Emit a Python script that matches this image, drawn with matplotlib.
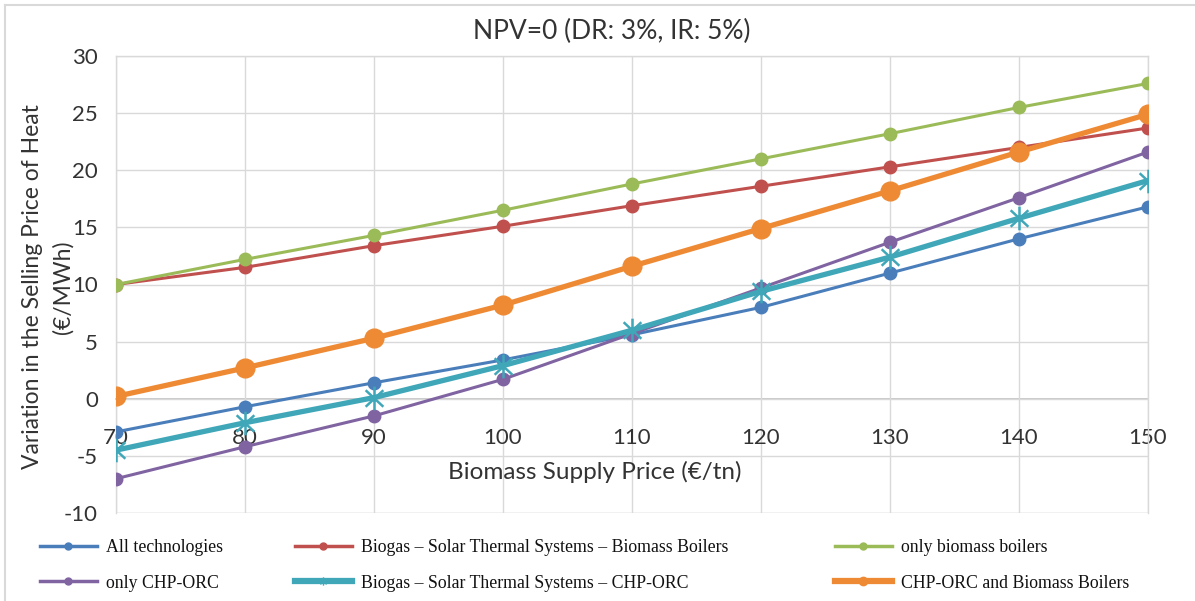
import matplotlib
matplotlib.use("Agg")
import matplotlib.pyplot as plt
from matplotlib.lines import Line2D
from matplotlib.path import Path

plt.rcParams["axes.unicode_minus"] = False

# Biomass supply price (€/tn)
biomass_price = [70, 80, 90, 100, 110, 120, 130, 140, 150]

# Variation in the selling price of heat (€/MWh) per technology mix
all_technologies = [-2.9, -0.7, 1.4, 3.4, 5.6, 8.0, 11.0, 14.0, 16.8]
biogas_sts_bb = [10.0, 11.5, 13.4, 15.1, 16.9, 18.6, 20.3, 22.0, 23.7]
only_biomass_boilers = [10.0, 12.2, 14.3, 16.5, 18.8, 21.0, 23.2, 25.5, 27.6]
only_chp_orc = [-7.0, -4.2, -1.5, 1.7, 5.7, 9.7, 13.7, 17.6, 21.6]
biogas_sts_chp = [-4.5, -2.1, 0.1, 2.9, 6.0, 9.4, 12.4, 15.8, 19.1]
chp_orc_bb = [0.2, 2.7, 5.3, 8.2, 11.6, 14.9, 18.2, 21.6, 24.9]

series_labels = [
    "All technologies",
    "Biogas \u2013 Solar Thermal Systems \u2013 Biomass Boilers",
    "only biomass boilers",
    "only CHP-ORC",
    "Biogas \u2013 Solar Thermal Systems \u2013 CHP-ORC",
    "CHP-ORC and Biomass Boilers",
]

x_ticks = [70, 80, 90, 100, 110, 120, 130, 140, 150]
y_ticks = [-10, -5, 0, 5, 10, 15, 20, 25, 30]

BLUE = "#4A7EBB"
RED = "#C0504D"
GREEN = "#9BBB59"
PURPLE = "#8064A2"
TEAL = "#3FA7B8"
ORANGE = "#EE8A34"

# Star marker: an X with a vertical stroke
star_path = Path(
    [(-0.75, -0.7), (0.75, 0.7), (-0.75, 0.7), (0.75, -0.7), (0, -1), (0, 1)],
    [Path.MOVETO, Path.LINETO, Path.MOVETO, Path.LINETO, Path.MOVETO, Path.LINETO],
)

sans = ["Lato", "DejaVu Sans"]
serif = ["Liberation Serif", "DejaVu Serif"]
TXT = "#333333"

fig = plt.figure(figsize=(11.95, 6.01), dpi=100)
ax = fig.add_axes([116 / 1195, 1 - 513 / 601, (1148 - 116) / 1195, (513 - 56) / 601])

styles = [
    (all_technologies, BLUE, 2.2, "o", 9, 1),
    (biogas_sts_bb, RED, 2.2, "o", 9, 1),
    (only_biomass_boilers, GREEN, 2.2, "o", 9, 1),
    (only_chp_orc, PURPLE, 2.2, "o", 9, 1),
    (biogas_sts_chp, TEAL, 3.8, star_path, 17, 1.8),
    (chp_orc_bb, ORANGE, 3.8, "o", 13.5, 1),
]

for (vals, color, lw, mk, ms, mew), lab in zip(styles, series_labels):
    ax.plot(biomass_price, vals, color=color, lw=lw, marker=mk, ms=ms,
            mec=color, mfc=color, mew=mew, label=lab, zorder=3,
            solid_capstyle="round")

ax.set_xlim(70, 150)
ax.set_ylim(-10, 30)
ax.set_xticks(x_ticks)
ax.set_yticks(y_ticks)
ax.grid(True, color="#D9D9D9", lw=1.0, zorder=0)
for s in ["top", "right", "left"]:
    ax.spines[s].set_color("#D9D9D9")
    ax.spines[s].set_linewidth(1.0)
ax.spines["bottom"].set_position(("data", 0))
ax.spines["bottom"].set_color("#BFBFBF")
ax.spines["bottom"].set_linewidth(1.2)
ax.spines["bottom"].set_zorder(1)
# lower frame edge of the plot area
ax.axhline(-10, color="#D9D9D9", lw=1.0, zorder=0)

ax.tick_params(axis="both", length=0, colors=TXT)
ax.tick_params(axis="x", pad=21)
ax.tick_params(axis="y", pad=13)
for lbl in ax.get_xticklabels() + ax.get_yticklabels():
    lbl.set_fontfamily(sans)
    lbl.set_fontsize(16)
    lbl.set_color(TXT)

ax.text(107.1, -6.45, "Biomass Supply Price (\u20ac/tn)", ha="center", va="center",
        fontsize=17.5, family=sans, color=TXT)

fig.text(612 / 1195, 1 - 31 / 601, "NPV=0 (DR: 3%, IR: 5%)", ha="center",
         va="center", fontsize=19, family=sans, color=TXT)

fig.text(33 / 1195, 1 - 287 / 601, "Variation in the Selling Price of Heat",
         rotation=90, ha="center", va="center", fontsize=16.5, family=sans,
         color=TXT)
fig.text(63 / 1195, 1 - 287 / 601, "(\u20ac/MWh)", rotation=90, ha="center",
         va="center", fontsize=16.5, family=sans, color=TXT)

# Legend in three columns
def proxy(color, lw, mk, ms, mew=1):
    return Line2D([], [], color=color, lw=lw, marker=mk, ms=ms, mec=color,
                  mfc=color, mew=mew)

handles = [
    proxy(BLUE, 2.5, "o", 5),
    proxy(RED, 2.5, "o", 5),
    proxy(GREEN, 2.5, "o", 5),
    proxy(PURPLE, 2.5, "o", 5),
    proxy(TEAL, 4.5, star_path, 6, 1),
    proxy(ORANGE, 4.5, "o", 6),
]

col_x = [40 / 1195, 295 / 1195, 835 / 1195]
for c in range(3):
    leg = fig.legend(
        [handles[c], handles[c + 3]],
        [series_labels[c], series_labels[c + 3]],
        loc="upper left",
        bbox_to_anchor=(col_x[c], 1 - 539 / 601),
        frameon=False,
        prop={"family": serif, "size": 12.8},
        handlelength=3.2,
        handletextpad=0.5,
        labelspacing=1.05,
        borderaxespad=0,
        borderpad=0,
    )
    for t in leg.get_texts():
        t.set_color("#111111")

# Outer frame (left and top edges)
fig.add_artist(Line2D([5 / 1195, 5 / 1195], [0, 1 - 5 / 601],
                      transform=fig.transFigure, color="#D9D9D9", lw=1.5))
fig.add_artist(Line2D([5 / 1195, 1], [1 - 5 / 601, 1 - 5 / 601],
                      transform=fig.transFigure, color="#D9D9D9", lw=1.5))

fig.savefig("out.png", dpi=100, facecolor="white")
